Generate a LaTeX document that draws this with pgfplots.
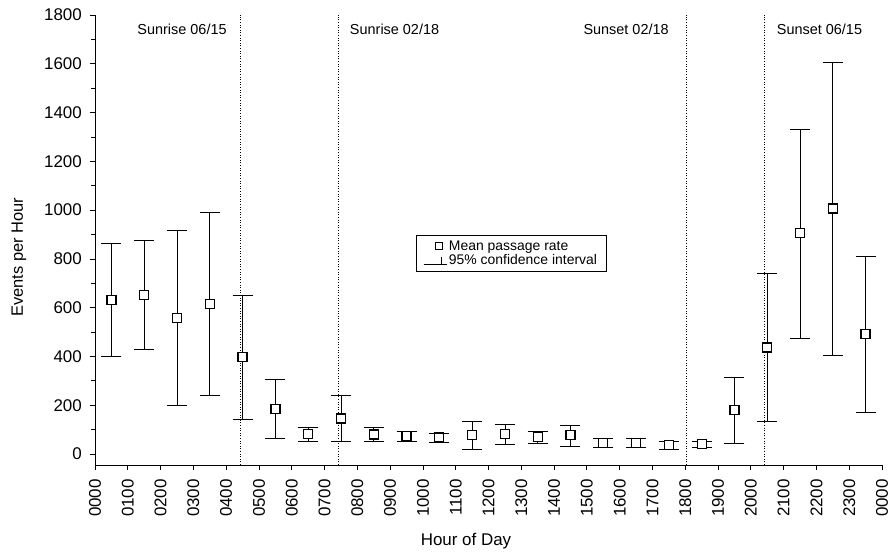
\documentclass[border=0pt]{standalone}
\usepackage{fontspec}
\setmainfont{Liberation Sans}
\usepackage{pgfplots}
\usepackage{pgfplotstable}
\pgfplotsset{compat=1.18}

\pgfplotstableread{
x y hi lo
0.5 631 862 399
1.5 653 876 429
2.5 558 917 200
3.5 615 992 241
4.5 399 652 143
5.5 186 307 63
6.5 82 111 51
7.5 146 239 51
8.5 80 109 51
9.5 74 94 52
10.5 68 86 48
11.5 79 133 21
12.5 82 122 41
13.5 71 94 44
14.5 77 119 30
15.5 45 66 26
16.5 45 66 29
17.5 37 52 21
18.5 41 52 29
19.5 180 313 45
20.5 437 739 133
21.5 905 1331 474
22.5 1007 1606 406
23.5 491 809 169
}\rates

\begin{document}
\begin{tikzpicture}
\useasboundingbox (0,0) rectangle (890bp,552bp);
\begin{axis}[
  at={(95bp,87bp)}, anchor=south west,
  scale only axis, width=787bp, height=450bp,
  xmin=0, xmax=24, ymin=-45, ymax=1800,
  axis x line=bottom, axis y line=left,
  axis line style={-, black, line width=0.8bp},
  tick align=outside,
  major tick length=5bp, minor tick length=3.5bp,
  tick style={black, line width=0.8bp},
  xtick={0,1,...,24},
  xticklabels={0000,0100,0200,0300,0400,0500,0600,0700,0800,0900,1000,1100,1200,1300,1400,1500,1600,1700,1800,1900,2000,2100,2200,2300,0000},
  xticklabel style={rotate=90, anchor=east, inner xsep=9bp, font=\fontsize{17}{19}\selectfont},
  ytick={0,200,...,1800},
  minor y tick num=1,
  yticklabel style={inner xsep=8bp, font=\fontsize{17}{19}\selectfont},
  /pgf/number format/assume math mode=true,
  /pgf/number format/1000 sep={},
  xlabel={Hour of Day},
  ylabel={Events per Hour},
  xlabel style={font=\fontsize{17}{19}\selectfont, at={(axis description cs:0.4714,-0.1778)}, anchor=base},
  ylabel style={font=\fontsize{16.5}{18}\selectfont, at={(axis description cs:-0.0915,0.462)}, anchor=base},
  legend style={at={(axis cs:12.69,822)}, anchor=center, draw=black, line width=0.6bp,
    font=\fontsize{14}{15}\selectfont, inner xsep=7bp, inner ysep=3bp,
    row sep=-1bp, nodes={inner sep=2bp}},
  legend cell align=left,
  clip=false,
]
% error bars
\addplot[draw=none, mark=none, forget plot,
  error bars/.cd, y dir=both, y explicit,
  error bar style={black, line width=0.75bp},
  error mark options={rotate=90, mark size=10bp, black, line width=0.75bp}]
  table[x=x, y=y, y error plus expr=\thisrow{hi}-\thisrow{y}, y error minus expr=\thisrow{y}-\thisrow{lo}] {\rates};
% dotted reference lines
\addplot[black, dash pattern=on 1bp off 1.6bp, line width=0.8bp, forget plot] coordinates {(4.44,-45) (4.44,1800)};
\addplot[black, dash pattern=on 1bp off 1.6bp, line width=0.8bp, forget plot] coordinates {(7.42,-45) (7.42,1800)};
\addplot[black, dash pattern=on 1bp off 1.6bp, line width=0.8bp, forget plot] coordinates {(18.02,-45) (18.02,1800)};
\addplot[black, dash pattern=on 1bp off 1.6bp, line width=0.8bp, forget plot] coordinates {(20.41,-45) (20.41,1800)};
% means
\addplot[only marks, mark=square*, mark size=4.5bp, mark options={fill=white, draw=black, line width=1.3bp}, forget plot]
  table[x=x, y=y] {\rates};
% legend
\addlegendimage{legend image code/.code={
  \path[draw=none, fill=none] (0bp,0bp) -- (23bp,0bp);
  \draw[black, fill=white, line width=1.1bp, solid] (12bp,-3.6bp) rectangle (19bp,3.6bp);}}
\addlegendentry{Mean passage rate}
\addlegendimage{legend image code/.code={
  \draw[black, line width=0.75bp, solid] (0bp,-3.5bp) -- (23bp,-3.5bp);
  \draw[black, line width=0.75bp, solid] (18bp,-3.5bp) -- (18bp,4bp);}}
\addlegendentry{95\% confidence interval}
% annotations
\node[anchor=base east, inner sep=0pt, font=\fontsize{14.5}{16}\selectfont] at (axis cs:4.02,1722) {Sunrise 06/15};
\node[anchor=base west, inner sep=0pt, font=\fontsize{14.5}{16}\selectfont] at (axis cs:7.77,1722) {Sunrise 02/18};
\node[anchor=base east, inner sep=0pt, font=\fontsize{14.5}{16}\selectfont] at (axis cs:17.5,1722) {Sunset 02/18};
\node[anchor=base west, inner sep=0pt, font=\fontsize{14.5}{16}\selectfont] at (axis cs:20.79,1722) {Sunset 06/15};
\end{axis}
\end{tikzpicture}
\end{document}
